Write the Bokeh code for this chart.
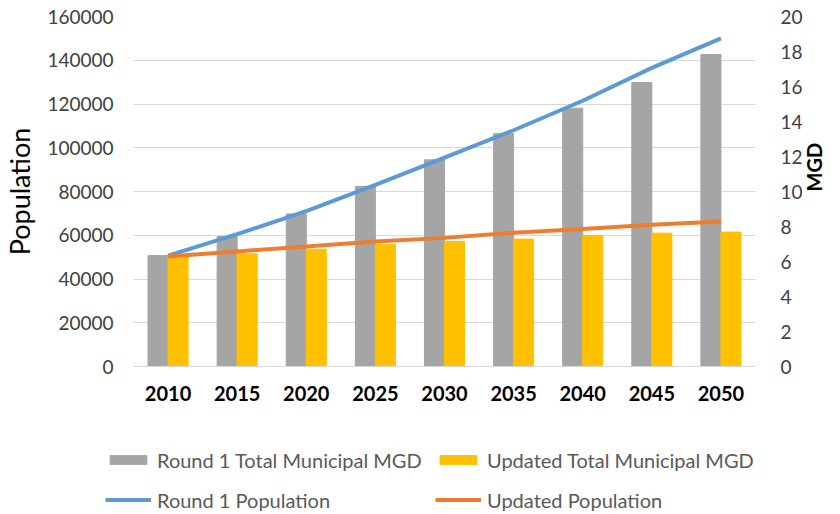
import math
from bokeh.plotting import figure
from bokeh.layouts import column
from bokeh.models import (FactorRange, Range1d, LinearAxis, FixedTicker, Legend, LegendItem,
                          BasicTickFormatter)
from bokeh.transform import dodge
from bokeh.embed import file_html
from bokeh.resources import INLINE

years = ["2010", "2015", "2020", "2025", "2030", "2035", "2040", "2045", "2050"]
round1_mgd = [6.34, 7.43, 8.72, 10.29, 11.81, 13.30, 14.76, 16.23, 17.83]
updated_mgd = [6.29, 6.44, 6.70, 6.97, 7.14, 7.28, 7.49, 7.62, 7.68]
round1_pop = [50700, 60500, 71000, 83000, 95500, 108000, 121500, 136500, 150000]
updated_pop = [50300, 52600, 54900, 57100, 58800, 61100, 62900, 64800, 66300]
pop_ticks = [0, 20000, 40000, 60000, 80000, 100000, 120000, 140000, 160000]
mgd_ticks = [0, 2, 4, 6, 8, 10, 12, 14, 16, 18, 20]
series_names = ["Round 1 Total Municipal MGD", "Updated Total Municipal MGD",
                "Round 1 Population", "Updated Population"]

FONT = "Lato"
TICK_COLOR = "#404040"
LEGEND_COLOR = "#595959"
GRAY, YELLOW, BLUE, ORANGE = "#A5A5A5", "#FFC000", "#5B9BD5", "#ED7D31"

data = dict(years=years, r1m=round1_mgd, upm=updated_mgd, r1p=round1_pop, upp=updated_pop)

p = figure(width=840, height=420, x_range=FactorRange(*years), y_range=Range1d(0, 160000),
           output_backend="svg", toolbar_location=None, frame_align=False,
           min_border_left=133, min_border_right=78, min_border_top=16, min_border_bottom=54)
p.extra_y_ranges = {"mgd": Range1d(0, 20)}
p.outline_line_color = None
p.background_fill_color = "white"
p.border_fill_color = "white"

p.vbar(x=dodge("years", -0.145, range=p.x_range), top="r1m", width=0.29, bottom=0,
       source=data, y_range_name="mgd", color=GRAY)
p.vbar(x=dodge("years", 0.145, range=p.x_range), top="upm", width=0.29, bottom=0,
       source=data, y_range_name="mgd", color=YELLOW)
p.line(x="years", y="r1p", source=data, line_color=BLUE, line_width=4)
p.line(x="years", y="upp", source=data, line_color=ORANGE, line_width=4)

# axes
p.xaxis.major_label_text_font = FONT
p.xaxis.major_label_text_font_style = "bold"
p.xaxis.major_label_text_font_size = "20px"
p.xaxis.major_label_text_color = "black"
p.xaxis.major_tick_line_color = None
p.xaxis.minor_tick_line_color = None
p.xaxis.axis_line_color = "#D9D9D9"
p.xaxis.major_label_standoff = 13

p.yaxis.ticker = FixedTicker(ticks=pop_ticks)
p.yaxis.formatter = BasicTickFormatter(use_scientific=False)
p.yaxis.major_label_text_font = FONT
p.yaxis.major_label_text_font_size = "19px"
p.yaxis.major_label_text_color = TICK_COLOR
p.yaxis.major_tick_line_color = None
p.yaxis.minor_tick_line_color = None
p.yaxis.axis_line_color = None
p.yaxis.major_label_standoff = 14
p.yaxis.axis_label = "Population"
p.yaxis.axis_label_text_font = FONT
p.yaxis.axis_label_text_font_size = "27px"
p.yaxis.axis_label_text_font_style = "normal"
p.yaxis.axis_label_text_color = "black"
p.yaxis.axis_label_standoff = 8

raxis = LinearAxis(y_range_name="mgd", ticker=FixedTicker(ticks=mgd_ticks),
                   axis_label="MGD", axis_label_orientation=math.pi / 2)
raxis.major_label_text_font = FONT
raxis.major_label_text_font_size = "19px"
raxis.major_label_text_color = TICK_COLOR
raxis.major_tick_line_color = None
raxis.minor_tick_line_color = None
raxis.axis_line_color = None
raxis.major_label_standoff = 19
raxis.axis_label_text_font = FONT
raxis.axis_label_text_font_size = "20px"
raxis.axis_label_text_font_style = "bold"
raxis.axis_label_text_color = "black"
raxis.axis_label_standoff = 8
p.add_layout(raxis, "right")

p.xgrid.grid_line_color = None
p.ygrid.ticker = FixedTicker(ticks=pop_ticks)
p.ygrid.grid_line_color = "#D9D9D9"
p.ygrid.grid_line_width = 1

# legend strip below the chart (proxy renderers drawn outside its visible range)
lg = figure(width=840, height=94, x_range=Range1d(1000, 1001), y_range=Range1d(1000, 1001),
            x_axis_type=None, y_axis_type=None, output_backend="svg", toolbar_location=None,
            min_border=0, frame_align=False)
lg.outline_line_color = None
lg.grid.visible = False
idx = list(range(len(years)))
k_gray = lg.vbar(x=idx, top=round1_mgd, width=0.29, color=GRAY)
k_yellow = lg.vbar(x=idx, top=updated_mgd, width=0.29, color=YELLOW)
k_blue = lg.line(x=idx, y=round1_pop, line_color=BLUE, line_width=4)
k_orange = lg.line(x=idx, y=updated_pop, line_color=ORANGE, line_width=4)


def make_legend(items, loc):
    leg = Legend(items=items, orientation="vertical", location=loc)
    leg.label_text_font = FONT
    leg.label_text_font_size = "20px"
    leg.label_text_color = LEGEND_COLOR
    leg.glyph_width = 46
    leg.glyph_height = 11
    leg.label_height = 20
    leg.label_standoff = 6
    leg.spacing = 16
    leg.padding = 0
    leg.margin = 0
    leg.border_line_color = None
    leg.background_fill_alpha = 0
    return leg


leg1 = make_legend([LegendItem(label=series_names[0], renderers=[k_gray]),
                    LegendItem(label=series_names[2], renderers=[k_blue])], (105, 2.5))
leg2 = make_legend([LegendItem(label=series_names[1], renderers=[k_yellow]),
                    LegendItem(label=series_names[3], renderers=[k_orange])], (435, 2.5))
lg.add_layout(leg1, "center")
lg.add_layout(leg2, "center")

layout = column(p, lg, spacing=0)
open("out.html", "w").write(file_html(layout, INLINE))
